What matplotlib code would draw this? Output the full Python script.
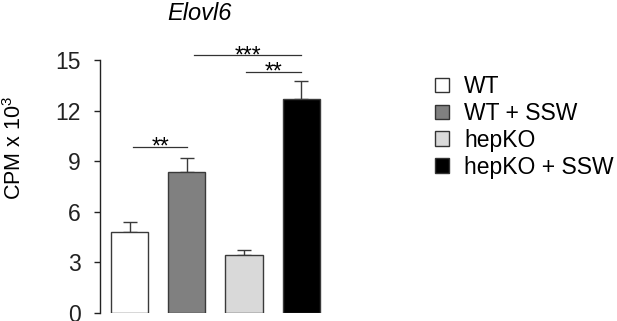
import matplotlib
matplotlib.use("Agg")
import matplotlib.pyplot as plt
from matplotlib.patches import Patch

categories = ["WT", "WT + SSW", "hepKO", "hepKO + SSW"]
values = [4.82, 8.34, 3.44, 12.7]
errors = [0.59, 0.83, 0.29, 1.07]
colors = ["#ffffff", "#808080", "#d9d9d9", "#000000"]
yticks = [0, 3, 6, 9, 12, 15]
# significance brackets: (left bar, right bar, y, label)
sig = [(0, 1, 9.86, "**"), (1, 3, 15.3, "***"), (2, 3, 14.3, "**")]

plt.rcParams['font.family'] = ['Liberation Sans', 'DejaVu Sans']
plt.rcParams['mathtext.fontset'] = 'custom'
plt.rcParams['mathtext.rm'] = 'Liberation Sans'
plt.rcParams['mathtext.it'] = 'Liberation Sans:italic'

fig = plt.figure(figsize=(6.17, 3.21), dpi=100)
W, H = 617, 321
ax = fig.add_axes([100 / W, 1 - 313 / H, 230 / W, 253 / H])

x = list(range(len(categories)))
ax.bar(x, values, width=0.65, color=colors, edgecolor="#3a3a3a", linewidth=1.0, zorder=2)
ax.errorbar(x, values, yerr=[[0] * 4, errors], fmt="none", ecolor="#3a3a3a",
            elinewidth=1.0, capsize=5, capthick=1.0, zorder=1)

ax.set_ylim(0, 15)
ax.set_xlim(-0.516, 3.5)
ax.set_yticks(yticks)
ax.set_yticklabels([str(t) for t in yticks], fontsize=16.5)
ax.tick_params(axis='y', length=4, width=1, pad=10, direction='out', colors="#222222")
ax.set_xticks([])
for s in ["top", "right", "bottom"]:
    ax.spines[s].set_visible(False)
ax.spines["left"].set_linewidth(1.0)
ax.spines["left"].set_color("#222222")

fig.text(15 / W, 1 - 148 / H, "CPM x 10$^{3}$", fontsize=15.5, rotation=90,
         ha="center", va="center")

offs = {0: (0.06, 1.01), 1: (1.12, 3.0), 2: (2.03, 3.0)}
for i, (a, b, yy, lab) in enumerate(sig):
    x0, x1 = offs[i]
    ax.plot([x0, x1], [yy, yy], color="#333333", lw=0.9, clip_on=False)
    ax.text((x0 + x1) / 2, yy - 0.42, lab, ha="center", va="baseline",
            fontsize=16.5, clip_on=False)

fig.text(199.5 / W, 1 - 14 / H, "Elovl6", style="italic", fontsize=17, ha="center", va="center")

handles = [Patch(facecolor=c, edgecolor="#333333", linewidth=1.0) for c in colors]
fig.legend(handles, categories, loc="upper left", bbox_to_anchor=(435 / W, 1 - 75 / H),
           frameon=False, fontsize=16.5, handlelength=0.6, handleheight=0.6,
           handletextpad=0.68, labelspacing=0.17, borderaxespad=0, borderpad=0)

fig.savefig("out.png", dpi=100)
